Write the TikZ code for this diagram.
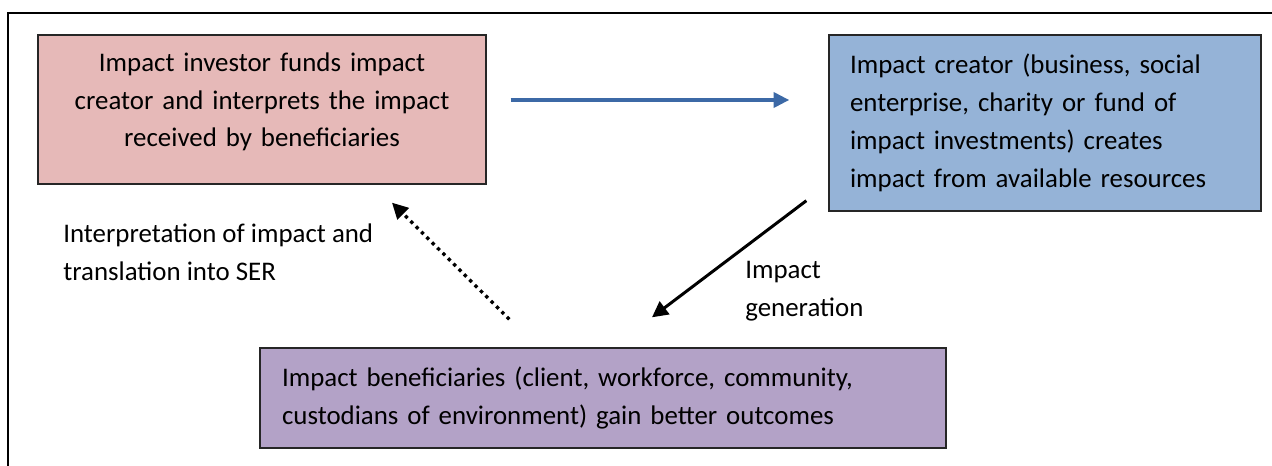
\documentclass[tikz,border=0pt]{standalone}
\usepackage{fontspec}
\setmainfont{Carlito}
\usetikzlibrary{arrows.meta}
\definecolor{investorpink}{HTML}{E6B9B8}
\definecolor{creatorblue}{HTML}{95B3D7}
\definecolor{beneficiarylilac}{HTML}{B3A2C7}
\definecolor{fundblue}{HTML}{3C69A6}
\def\diagfont{\fontsize{15.3}{21.5}\selectfont}

\begin{document}
\begin{tikzpicture}[x=0.02cm, y=-0.02cm,
	box/.style={draw=black!85, line width=0.8pt, rectangle, inner xsep=0.42cm, font=\diagfont},
	note/.style={inner sep=0pt, align=left, font=\diagfont},
	fundarrow/.style={draw=fundblue, line width=2.6pt, -{Triangle[length=9pt, width=8.5pt]}},
	impactarrow/.style={line width=1.7pt, -{Triangle[length=9pt, width=9pt]}},
	readarrow/.style={line width=1.9pt, dash pattern=on 1.9pt off 2.4pt, -{Triangle[length=9pt, width=9pt]}}]
			%%%%% START %%%%%
			
			\useasboundingbox (0, 0) rectangle (1272, 466);
			\fill[white] (0, 0) rectangle (1272, 466);
			\draw[line width=1.1pt] (8, 466) -- (8, 13) -- (1272, 13);
			
			\node[box, fill=investorpink, minimum width=8.96cm, minimum height=2.98cm, text width=8.1cm, align=center, text depth=54pt] (investor) at (262, 109.5) {Impact investor funds impact\\ creator and interprets the impact\\ received by beneficiaries};
			\node[box, fill=creatorblue, minimum width=8.64cm, minimum height=3.52cm, text width=7.8cm, align=left] (creator) at (1045, 123) {Impact creator (business, social\\ enterprise, charity or fund of\\ impact investments) creates\\ impact from available resources};
			\node[box, fill=beneficiarylilac, minimum width=13.72cm, minimum height=2cm, text width=12.84cm, align=left] (beneficiary) at (603, 398) {Impact beneficiaries (client, workforce, community,\\ custodians of environment) gain better outcomes};
			
			\node[note, anchor=west] (interpretation) at (63, 252) {Interpretation of impact and\\ translation into SER};
			\node[note, anchor=west] (generation) at (745, 291.5) {Impact\\ generation};
			
			\coordinate (fundstart) at ([yshift=0.19cm]investor.east);
			\draw[fundarrow, shorten <=0.48cm, shorten >=0.78cm] (fundstart) -- (fundstart -| creator.west);
			
			\draw[impactarrow] ([shift={(-22,-11)}]creator.south west) -- ([shift={(49,-30)}]beneficiary.north);
			
			\draw[readarrow] ([shift={(250,-28)}]beneficiary.north west) -- ([shift={(130,18)}]investor.south);
			
			%%%%% END %%%%%
\end{tikzpicture}
\end{document}
